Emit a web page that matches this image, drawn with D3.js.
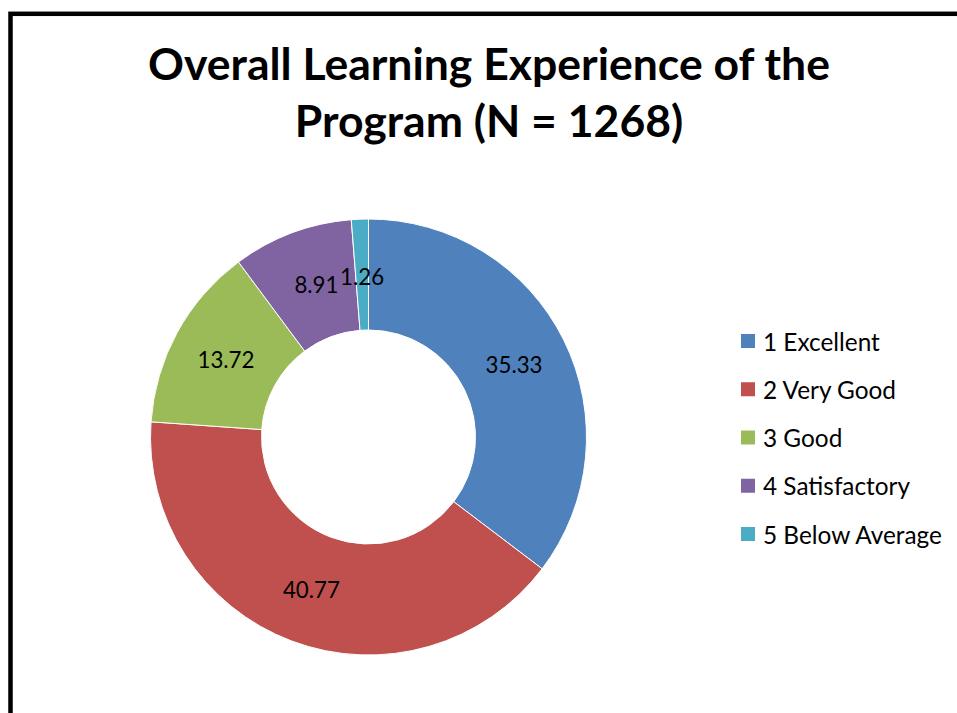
<!DOCTYPE html>
<html>
<head>
<meta charset="utf-8">
<script src="https://cdn.jsdelivr.net/npm/d3@7"></script>
<style>
  html, body { margin: 0; padding: 0; background: #fff; }
  svg { display: block; }
  text { font-family: Lato, "Open Sans", sans-serif; }
</style>
</head>
<body>
<svg id="chart" width="957" height="713"></svg>
<script>
const titleLines = ["Overall Learning Experience of the", "Program (N = 1268)"];
const categories = ["1 Excellent", "2 Very Good", "3 Good", "4 Satisfactory", "5 Below Average"];
const values = [35.33, 40.77, 13.72, 8.91, 1.26];
const colors = ["#4F81BD", "#C0504D", "#9BBB59", "#8064A2", "#4BACC6"];

const W = 957, H = 713;
const svg = d3.select("#chart");

// outer frame
svg.append("rect")
  .attr("x", 10.5).attr("y", 13.8)
  .attr("width", 1000).attr("height", 1000)
  .attr("fill", "#fff").attr("stroke", "#000").attr("stroke-width", 4.5);

// fit-to-width helper
function fitSize(sel, target) {
  sel.attr("font-size", 40);
  const w = sel.node().getComputedTextLength();
  return 40 * target / w;
}

// title
const tg = svg.append("g");
const t1 = tg.append("text").attr("x", 489).attr("y", 80)
  .attr("text-anchor", "middle").attr("font-weight", "bold").attr("fill", "#000")
  .text(titleLines[0]);
const tSize = fitSize(t1, 682);
t1.attr("font-size", tSize);
tg.append("text").attr("x", 489).attr("y", 137)
  .attr("text-anchor", "middle").attr("font-weight", "bold").attr("fill", "#000")
  .attr("font-size", tSize)
  .text(titleLines[1]);

// donut
const cx = 368.5, cy = 437, R = 218, r = 107;
const pie = d3.pie().sort(null).value(d => d);
const arcs = pie(values);
const arc = d3.arc().innerRadius(r).outerRadius(R);
const labelArc = d3.arc().innerRadius((R + r) / 2).outerRadius((R + r) / 2);
const color = d3.scaleOrdinal().domain(categories).range(colors);

const pg = svg.append("g").attr("transform", `translate(${cx},${cy})`);
pg.selectAll("path").data(arcs).enter().append("path")
  .attr("d", arc)
  .attr("fill", (d, i) => color(categories[i]))
  .attr("stroke", "#fff").attr("stroke-width", 1);

// labels
const probe = svg.append("text").text("35.33");
const lSize = fitSize(probe, 57);
probe.remove();
const labelNudge = [[0, 0], [0, 0], [0, 0], [5, 0], [0, 2]];
pg.selectAll("text.lbl").data(arcs).enter().append("text")
  .attr("class", "lbl")
  .attr("x", (d, i) => labelArc.centroid(d)[0] + labelNudge[i][0])
  .attr("y", (d, i) => labelArc.centroid(d)[1] + labelNudge[i][1])
  .attr("text-anchor", "middle").attr("dominant-baseline", "central")
  .attr("font-size", lSize).attr("fill", "#000")
  .text(d => d.data.toFixed(2));

// legend
const probe2 = svg.append("text").text(categories[4]);
const gSize = fitSize(probe2, 179);
probe2.remove();
const ly = d3.scalePoint().domain(categories).range([341, 534]);
const lg = svg.append("g");
const items = lg.selectAll("g").data(categories).enter().append("g")
  .attr("transform", d => `translate(741,${ly(d)})`);
items.append("rect").attr("x", 0).attr("y", -7).attr("width", 14).attr("height", 14)
  .attr("fill", d => color(d));
items.append("text").attr("x", 22).attr("y", 0)
  .attr("dominant-baseline", "central").attr("font-size", gSize).attr("fill", "#000")
  .text(d => d);
</script>
</body>
</html>
